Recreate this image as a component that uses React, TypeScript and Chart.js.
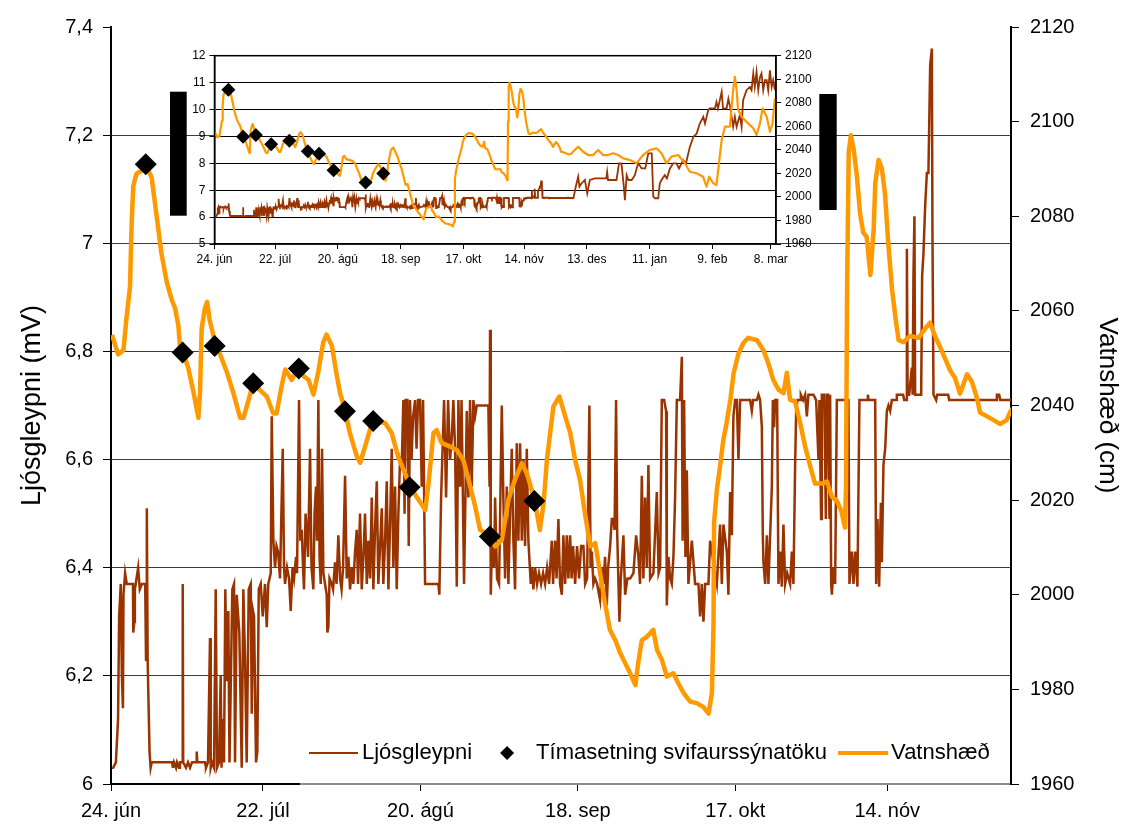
import React, { useEffect, useRef } from "react";
import { Chart, registerables } from "chart.js";

Chart.register(...registerables);

const FONT = '"Liberation Sans", Arial, Helvetica, sans-serif';
const BROWN = "#993300";
const ORANGE = "#FF9900";

// x values are days counted from 24 June
const mainTickDays = [0, 28, 57, 86, 115, 143];
const mainTickLabels = ["24. jún", "22. júl", "20. ágú", "18. sep", "17. okt", "14. nóv"];
const mainMaxDay = 165.8;

const insetTickDays = [0, 28, 57, 86, 115, 143, 172, 201, 230, 257];
const insetTickLabels = [
  "24. jún", "22. júl", "20. ágú", "18. sep", "17. okt",
  "14. nóv", "13. des", "11. jan", "9. feb", "8. mar",
];
const insetMaxDay = 259.4;

// sampling times (day) and water level at sampling (cm)
const sampleDays = [6.4, 13.2, 19.1, 26.2, 34.6, 43.1, 48.3, 55.0, 69.8, 78.0];
const sampleLevels = [2091, 2051.2, 2052.6, 2044.7, 2047.8, 2038.8, 2036.7, 2022.7, 2012.3, 2019.8];

// light absorbance (mV), summer/autumn record [day, mV]
const ljosSummer: [number, number][] = [
  [0.2, 6.03], [0.4, 6.03], [0.9, 6.04], [1.3, 6.12], [1.5, 6.31], [1.8, 6.37], [2.0, 6.2], [2.2, 6.14],
  [2.3, 6.35], [2.6, 6.39], [2.9, 6.37], [4.05, 6.37], [4.1, 6.28], [4.3, 6.3], [4.4, 6.36], [5.0, 6.4],
  [5.3, 6.36], [5.7, 6.37], [6.3, 6.37], [6.45, 6.23], [6.6, 6.51], [6.75, 6.23], [7.1, 6.06], [7.3, 6.03],
  [7.5, 6.04], [11.24, 6.04], [11.42, 6.03], [11.61, 6.04], [11.98, 6.03], [12.16, 6.04], [12.53, 6.03],
  [12.71, 6.04], [13.17, 6.04], [13.21, 6.37], [13.3, 6.04], [13.82, 6.03], [14.19, 6.04], [14.56, 6.03],
  [14.93, 6.04], [15.66, 6.04], [15.79, 6.06], [15.9, 6.04], [17.32, 6.04], [17.5, 6.03], [17.87, 6.04],
  [18.24, 6.27], [18.37, 6.03], [18.61, 6.04], [18.98, 6.03], [19.29, 6.36], [19.53, 6.03], [19.9, 6.04],
  [20.21, 6.2], [20.36, 6.03], [20.58, 6.12], [20.82, 6.04], [21.06, 6.36], [21.32, 6.19], [21.61, 6.32],
  [21.83, 6.04], [22.06, 6.18], [22.35, 6.36], [22.66, 6.37], [22.85, 6.04], [23.16, 6.35], [23.64, 6.28],
  [24.08, 6.03], [24.38, 6.36], [24.69, 6.23], [25.0, 6.04], [25.37, 6.36], [25.74, 6.37], [25.93, 6.13],
  [26.16, 6.32], [26.35, 6.31], [26.72, 6.04], [26.96, 6.06], [27.22, 6.36], [27.58, 6.37], [27.95, 6.31],
  [28.38, 6.37], [28.69, 6.29], [28.98, 6.37], [29.43, 6.39], [29.61, 6.68], [29.91, 6.45], [30.22, 6.4],
  [30.49, 6.44], [30.77, 6.43], [31.14, 6.38], [31.64, 6.62], [31.88, 6.4], [32.06, 6.37], [32.43, 6.4],
  [32.8, 6.38], [33.11, 6.32], [33.44, 6.4], [33.72, 6.38], [34.09, 6.42], [34.27, 6.39], [34.64, 6.71],
  [34.88, 6.45], [35.14, 6.47], [35.38, 6.4], [35.56, 6.36], [35.84, 6.5], [36.06, 6.47], [36.3, 6.42],
  [36.67, 6.62], [36.94, 6.4], [37.28, 6.36], [37.5, 6.5], [37.77, 6.55], [37.96, 6.45], [38.2, 6.71],
  [38.42, 6.42], [38.64, 6.37], [38.88, 6.62], [39.12, 6.39], [39.43, 6.37], [39.74, 6.35], [39.86, 6.28],
  [40.04, 6.29], [40.26, 6.38], [40.67, 6.37], [40.91, 6.36], [41.27, 6.41], [41.55, 6.37], [41.88, 6.46],
  [42.2, 6.38], [42.47, 6.36], [42.75, 6.4], [43.12, 6.57], [43.43, 6.38], [43.73, 6.42], [44.04, 6.36],
  [44.35, 6.4], [44.65, 6.37], [44.96, 6.43], [45.27, 6.47], [45.51, 6.37], [45.88, 6.5], [46.19, 6.36],
  [46.49, 6.42], [46.8, 6.5], [47.12, 6.37], [47.41, 6.45], [47.72, 6.38], [48.04, 6.53], [48.33, 6.36],
  [48.64, 6.47], [48.96, 6.56], [49.25, 6.37], [49.57, 6.44], [49.88, 6.51], [50.17, 6.37], [50.49, 6.45],
  [50.8, 6.56], [51.1, 6.36], [51.41, 6.48], [51.72, 6.62], [52.02, 6.4], [52.33, 6.55], [52.64, 6.36],
  [52.94, 6.5], [53.25, 6.6], [53.56, 6.59], [53.86, 6.71], [54.08, 6.5], [54.27, 6.71], [54.6, 6.71],
  [54.85, 6.44], [55.09, 6.71], [55.37, 6.6], [55.65, 6.68], [56.02, 6.71], [56.29, 6.62], [56.57, 6.71],
  [56.94, 6.71], [57.25, 6.55], [57.49, 6.71], [57.67, 6.55], [57.86, 6.37], [60.31, 6.37], [60.49, 6.35],
  [60.81, 6.53], [61.36, 6.71], [61.73, 6.53], [62.1, 6.71], [62.46, 6.6], [62.78, 6.64], [63.07, 6.71],
  [63.39, 6.62], [63.7, 6.365], [64.0, 6.71], [64.31, 6.55], [64.58, 6.71], [65.04, 6.37], [65.54, 6.69],
  [65.84, 6.53], [66.15, 6.71], [66.46, 6.55], [66.76, 6.71], [67.07, 6.68], [67.38, 6.7], [69.52, 6.7],
  [69.74, 6.55], [69.83, 6.84], [69.96, 6.35], [70.2, 6.45], [70.57, 6.4], [70.76, 6.53], [71.12, 6.38],
  [71.49, 6.37], [71.99, 6.7], [72.28, 6.53], [72.6, 6.38], [72.91, 6.55], [73.21, 6.37], [73.52, 6.5],
  [73.83, 6.62], [74.13, 6.45], [74.44, 6.36], [74.75, 6.63], [75.05, 6.45], [75.36, 6.63], [75.68, 6.45],
  [75.97, 6.6], [76.28, 6.44], [76.6, 6.62], [76.89, 6.45], [77.33, 6.37], [77.57, 6.4], [77.81, 6.36],
  [78.13, 6.4], [78.49, 6.37], [78.86, 6.39], [79.23, 6.37], [79.6, 6.39], [79.97, 6.37], [80.34, 6.4],
  [80.71, 6.37], [81.2, 6.45], [81.44, 6.37], [81.81, 6.45], [82.09, 6.38], [82.42, 6.49], [82.73, 6.37],
  [83.05, 6.35], [83.34, 6.46], [83.66, 6.37], [83.97, 6.46], [84.26, 6.38], [84.58, 6.46], [84.85, 6.38],
  [85.13, 6.44], [85.5, 6.37], [85.86, 6.44], [86.23, 6.38], [86.6, 6.44], [87.03, 6.44], [87.34, 6.37],
  [87.71, 6.38], [88.13, 6.7], [88.35, 6.4], [88.57, 6.43], [88.87, 6.37], [89.18, 6.38], [89.55, 6.37],
  [90.1, 6.34], [90.38, 6.4], [90.71, 6.37], [91.02, 6.42], [91.34, 6.33], [91.58, 6.4], [91.95, 6.44],
  [92.26, 6.49], [92.55, 6.49], [92.77, 6.47], [93.05, 6.71], [93.24, 6.47], [93.66, 6.3], [93.92, 6.38],
  [94.4, 6.46], [94.71, 6.35], [95.13, 6.38], [95.63, 6.38], [96.24, 6.39], [96.74, 6.46], [97.16, 6.42],
  [97.47, 6.37], [97.79, 6.57], [98.08, 6.38], [98.39, 6.53], [98.71, 6.4], [99.0, 6.59], [99.32, 6.38],
  [99.92, 6.39], [100.55, 6.54], [100.88, 6.39], [101.16, 6.4], [101.47, 6.71], [101.9, 6.71], [102.26, 6.69],
  [102.39, 6.33], [102.69, 6.42], [103.0, 6.38], [103.31, 6.37], [103.61, 6.42], [103.92, 6.53], [104.24, 6.71],
  [104.84, 6.71], [105.16, 6.79], [105.3, 6.45], [105.58, 6.71], [105.82, 6.42], [106.08, 6.58], [106.37, 6.37],
  [107.0, 6.45], [107.61, 6.37], [108.22, 6.37], [108.53, 6.31], [108.84, 6.37], [109.14, 6.3], [109.45, 6.37],
  [110.06, 6.37], [110.37, 6.45], [110.98, 6.41], [111.61, 6.37], [112.21, 6.48], [112.53, 6.37], [112.82, 6.48],
  [113.45, 6.43], [113.74, 6.35], [114.06, 6.54], [114.37, 6.46], [114.66, 6.68], [114.98, 6.71], [115.29, 6.71],
  [115.59, 6.6], [115.9, 6.71], [117.74, 6.71], [118.05, 6.69], [118.29, 6.71], [118.98, 6.71], [119.27, 6.72],
  [119.58, 6.71], [119.9, 6.66], [120.08, 6.46], [120.19, 6.41], [120.51, 6.37], [120.82, 6.46], [121.11, 6.37],
  [121.43, 6.46], [121.74, 6.55], [121.93, 6.71], [122.16, 6.66], [122.35, 6.71], [122.72, 6.71], [122.96, 6.37],
  [123.27, 6.43], [123.58, 6.365], [123.88, 6.48], [124.19, 6.37], [124.56, 6.39], [125.11, 6.37], [125.43, 6.43],
  [125.72, 6.37], [126.03, 6.59], [126.22, 6.69], [126.46, 6.71], [126.96, 6.71], [127.08, 6.72], [127.51, 6.71],
  [127.88, 6.72], [128.19, 6.68], [128.48, 6.72], [129.41, 6.72], [129.9, 6.71], [130.33, 6.6], [130.51, 6.71],
  [130.82, 6.49], [130.95, 6.72], [131.38, 6.72], [131.56, 6.6], [131.69, 6.49], [131.88, 6.72], [132.12, 6.72],
  [132.36, 6.49], [132.48, 6.72], [132.67, 6.37], [132.8, 6.35], [133.09, 6.4], [133.4, 6.37], [133.72, 6.71],
  [135.85, 6.71], [136.04, 6.37], [136.48, 6.43], [136.78, 6.37], [137.09, 6.43], [137.51, 6.365], [137.88, 6.71],
  [139.3, 6.71], [139.43, 6.72], [139.58, 6.71], [140.78, 6.71], [140.96, 6.37], [141.2, 6.49], [141.51, 6.365],
  [141.83, 6.52], [142.01, 6.41], [142.3, 6.59], [142.62, 6.62], [142.93, 6.69], [143.22, 6.7], [143.54, 6.69],
  [143.85, 6.71], [144.64, 6.71], [144.77, 6.72], [145.93, 6.72], [146.12, 6.71], [146.49, 6.71], [146.62, 6.99],
  [146.76, 6.72], [147.04, 6.72], [147.53, 6.77], [147.68, 6.72], [147.83, 6.94], [148.01, 7.05], [148.14, 6.72],
  [149.25, 6.72], [149.43, 6.94], [149.67, 6.98], [149.99, 7.07], [150.3, 7.13], [150.59, 7.13], [150.91, 7.33],
  [151.22, 7.36], [151.33, 7.02], [151.52, 6.72], [152.01, 6.71], [152.2, 6.72], [154.23, 6.72], [154.41, 6.71],
  [163.07, 6.71], [163.2, 6.72], [163.62, 6.72], [163.81, 6.71], [165.83, 6.71],
];

// light absorbance (mV), winter record [day, mV]
const ljosWinter: [number, number][] = [
  [166.9, 7.13], [168.0, 7.5], [168.6, 7.13], [169.5, 7.25], [171.1, 7.38], [172.2, 6.88], [173.4, 7.38],
  [175.7, 7.44], [178.8, 7.44], [181.0, 7.44], [181.4, 7.68], [181.8, 7.38], [185.7, 7.38], [186.9, 8.0],
  [188.0, 8.0], [189.1, 7.13], [189.6, 6.63], [190.4, 7.56], [191.2, 7.38], [192.7, 7.38], [194.2, 7.56],
  [195.0, 7.81], [195.8, 8.0], [197.3, 7.81], [199.0, 7.81], [200.4, 8.37], [202.0, 8.37], [202.7, 6.76],
  [203.5, 6.7], [205.0, 6.7], [205.7, 7.25], [206.5, 7.38], [208.0, 7.56], [209.0, 7.44], [210.4, 7.81],
  [211.9, 8.0], [213.4, 8.0], [214.6, 7.81], [216.5, 8.12], [217.8, 8.0], [219.6, 8.61], [221.2, 8.98],
  [222.7, 9.1], [224.2, 9.48], [225.8, 9.73], [226.6, 9.48], [228.1, 9.98], [228.8, 10.04], [231.2, 10.04],
  [231.9, 10.28], [232.6, 10.04], [234.3, 10.66], [234.9, 10.04], [236.6, 10.04], [237.4, 10.4], [238.2, 10.1],
  [238.9, 9.73], [239.6, 9.36], [240.4, 9.73], [241.2, 9.36], [242.7, 9.79], [243.5, 9.36], [244.2, 10.35],
  [245.8, 10.72], [247.3, 10.84], [248.1, 10.72], [248.9, 11.34], [249.6, 10.84], [250.4, 11.4], [251.2, 10.72],
  [252.0, 11.2], [252.7, 11.34], [253.5, 10.72], [254.3, 11.09], [255.1, 11.09], [255.8, 10.72], [256.6, 11.46],
  [257.4, 10.84], [258.1, 11.09], [258.9, 10.72],
];

// water level (cm), summer/autumn record [day, cm]
const vatnSummer: [number, number][] = [
  [0.2, 2054.9], [1.3, 2050.8], [2.3, 2051.7], [2.8, 2057.9], [3.5, 2065.1], [3.8, 2078.4], [4.1, 2086.4],
  [4.7, 2089.0], [5.3, 2089.4], [6.6, 2090.4], [7.5, 2088.1], [8.4, 2080.1], [9.3, 2072.1], [10.3, 2065.9],
  [11.2, 2062.3], [11.8, 2060.6], [12.4, 2057.0], [12.7, 2052.6], [13.3, 2051.2], [14.2, 2048.1], [15.2, 2042.8],
  [16.1, 2037.4], [16.4, 2042.8], [16.7, 2056.2], [17.3, 2060.6], [17.7, 2061.9], [18.2, 2057.9], [19.3, 2052.8],
  [20.1, 2050.8], [21.3, 2047.2], [22.5, 2042.8], [23.8, 2037.4], [24.4, 2037.4], [25.3, 2041.0], [26.2, 2044.8],
  [27.5, 2043.2], [28.7, 2041.9], [29.9, 2038.3], [30.5, 2038.3], [31.5, 2044.5], [32.1, 2047.6], [33.3, 2045.4],
  [34.5, 2048.1], [35.4, 2046.3], [36.4, 2045.4], [37.3, 2042.3], [38.2, 2047.2], [39.1, 2053.4], [39.7, 2055.0],
  [40.7, 2052.6], [41.6, 2046.3], [42.2, 2042.6], [43.1, 2039.1], [44.0, 2034.2], [45.3, 2029.2], [45.9, 2027.9],
  [46.8, 2031.3], [48.2, 2036.8], [50.5, 2036.3], [51.7, 2034.2], [52.9, 2029.2], [55.1, 2023.0], [56.3, 2020.7],
  [57.9, 2017.9], [58.5, 2023.6], [59.4, 2034.2], [60.0, 2034.8], [60.9, 2032.1], [62.5, 2031.3], [63.7, 2030.6],
  [64.9, 2028.5], [66.2, 2022.8], [67.1, 2018.6], [68.0, 2013.7], [69.8, 2012.6], [70.8, 2010.2], [72.0, 2011.6],
  [73.2, 2020.0], [74.4, 2024.3], [75.7, 2027.8], [76.6, 2025.7], [78.1, 2019.7], [79.0, 2013.7], [79.7, 2019.3],
  [80.3, 2028.5], [81.5, 2039.8], [82.6, 2041.9], [83.7, 2037.6], [84.6, 2034.2], [85.5, 2028.5], [86.4, 2024.3],
  [87.3, 2017.3], [88.3, 2010.2], [89.2, 2010.9], [90.1, 2004.6], [91.0, 1998.3], [91.9, 1992.6], [92.9, 1990.4],
  [93.8, 1987.7], [94.7, 1985.6], [95.6, 1983.5], [96.6, 1980.9], [97.2, 1986.2], [97.8, 1990.4], [98.7, 1991.1],
  [99.9, 1992.6], [100.6, 1988.3], [101.5, 1986.2], [102.4, 1982.7], [103.6, 1983.4], [104.5, 1981.3],
  [105.5, 1979.2], [106.7, 1977.4], [107.9, 1977.1], [109.1, 1976.3], [110.1, 1974.9], [110.7, 1979.2],
  [111.0, 1994.0], [111.1, 2015.2], [111.6, 2022.1], [112.2, 2027.1], [112.8, 2032.7], [113.4, 2036.2],
  [114.1, 2041.2], [114.7, 2046.8], [115.6, 2051.0], [116.5, 2053.2], [117.4, 2054.3], [119.0, 2053.8],
  [120.2, 2051.7], [121.1, 2048.9], [122.0, 2045.4], [123.0, 2043.3], [123.9, 2042.6], [124.5, 2046.9],
  [125.1, 2041.2], [126.0, 2040.9], [127.0, 2036.1], [127.9, 2031.2], [128.8, 2027.2], [129.7, 2023.5],
  [131.0, 2023.5], [131.9, 2023.9], [132.8, 2020.7], [133.7, 2019.9], [134.6, 2017.5], [135.2, 2014.2],
  [135.4, 2022.4], [135.6, 2064.4], [135.9, 2093.5], [136.3, 2097.1], [136.8, 2094.3], [137.4, 2088.6],
  [138.0, 2080.5], [138.6, 2076.5], [139.2, 2075.7], [139.9, 2067.6], [140.5, 2077.3], [140.8, 2087.0],
  [141.4, 2091.9], [142.0, 2090.2], [142.6, 2084.6], [143.2, 2074.1], [143.9, 2064.4], [144.5, 2058.7],
  [145.1, 2053.8], [146.0, 2053.4], [147.2, 2054.7], [148.8, 2054.3], [150.0, 2056.3], [150.9, 2057.5],
  [151.8, 2054.7], [152.8, 2052.2], [153.7, 2049.8], [154.6, 2047.4], [155.5, 2045.8], [156.4, 2042.5],
  [157.7, 2046.6], [158.6, 2045.0], [159.5, 2041.7], [160.1, 2038.5], [161.4, 2037.7], [162.6, 2036.9],
  [163.8, 2036.1], [165.0, 2036.9], [165.6, 2038.5],
];

// water level (cm), winter record [day, cm]
const vatnWinter: [number, number][] = [
  [168.0, 2042.7], [170.3, 2038.4], [172.6, 2035.6], [174.9, 2035.6], [177.2, 2039.9], [179.5, 2035.6],
  [181.8, 2035.6], [184.1, 2037.1], [186.5, 2035.6], [188.8, 2032.8], [191.9, 2031.4], [195.0, 2028.6],
  [198.0, 2035.6], [201.1, 2039.9], [204.2, 2041.3], [206.5, 2037.1], [208.8, 2028.6], [211.1, 2034.2],
  [214.2, 2035.6], [217.3, 2028.6], [219.6, 2021.4], [222.7, 2020.1], [225.7, 2017.2], [227.3, 2008.7],
  [228.5, 2017.2], [230.4, 2011.6], [231.9, 2010.1], [232.7, 2022.9], [234.3, 2048.4], [235.8, 2059.7],
  [238.1, 2059.7], [239.6, 2090.8], [240.4, 2102.1], [241.2, 2090.8], [241.9, 2073.8], [243.5, 2068.2],
  [246.5, 2062.5], [248.9, 2058.3], [250.4, 2052.6], [252.0, 2062.5], [253.2, 2075.3], [255.1, 2068.2],
  [256.6, 2055.4], [257.8, 2062.5], [258.9, 2083.8],
];

const toXY = (pairs: [number, number][]) => pairs.map(([x, y]) => ({ x, y }));
const samplePoints = sampleDays.map((d, i) => ({ x: d, y: sampleLevels[i] }));
const ljosAll = toXY([...ljosSummer, ...ljosWinter]);
const vatnAll = toXY([...vatnSummer, ...vatnWinter]);

const commaNumber = (v: number) => (Math.round(v * 10) / 10).toString().replace(".", ",");
const plainNumber = (v: number) => String(Math.round(v));
const near = (a: number, b: number) => Math.abs(a - b) < 1e-6;

function buildDatasets(diamondRadius: number, levelWidth: number, ljosWidth: number) {
  return [
    {
      type: "line" as const,
      label: "Tímasetning svifaurssýnatöku",
      data: samplePoints,
      yAxisID: "y1",
      showLine: false,
      pointStyle: "rectRot" as const,
      pointRadius: diamondRadius,
      pointBackgroundColor: "#000",
      pointBorderColor: "#000",
      pointBorderWidth: 0,
      borderColor: "#000",
      backgroundColor: "#000",
    },
    {
      type: "line" as const,
      label: "Vatnshæð",
      data: vatnAll,
      yAxisID: "y1",
      borderColor: ORANGE,
      borderWidth: levelWidth,
      pointRadius: 0,
      tension: 0,
      borderJoinStyle: "round" as const,
    },
    {
      type: "line" as const,
      label: "Ljósgleypni",
      data: ljosAll,
      yAxisID: "y",
      borderColor: BROWN,
      borderWidth: ljosWidth,
      pointRadius: 0,
      tension: 0,
    },
  ];
}

// legend row drawn inside the plot, along its lower edge
const legendPlugin = {
  id: "rowLegend",
  afterDatasetsDraw(chart: any) {
    const { ctx, chartArea } = chart;
    const [samples, level, ljos] = chart.data.datasets;
    const y = chartArea.bottom - 31;
    ctx.save();
    ctx.font = `22px ${FONT}`;
    ctx.textBaseline = "middle";
    ctx.fillStyle = "#000";
    let x = chartArea.left + 198;

    ctx.strokeStyle = ljos.borderColor;
    ctx.lineWidth = 2;
    ctx.beginPath();
    ctx.moveTo(x, y);
    ctx.lineTo(x + 49, y);
    ctx.stroke();
    x += 53;
    ctx.fillText(ljos.label, x, y);
    x += ctx.measureText(ljos.label).width + 35;

    const r = 7;
    ctx.fillStyle = samples.pointBackgroundColor;
    ctx.beginPath();
    ctx.moveTo(x - r, y);
    ctx.lineTo(x, y - r);
    ctx.lineTo(x + r, y);
    ctx.lineTo(x, y + r);
    ctx.closePath();
    ctx.fill();
    x += 29;
    ctx.fillStyle = "#000";
    ctx.fillText(samples.label, x, y);
    x += ctx.measureText(samples.label).width + 11;

    ctx.strokeStyle = level.borderColor;
    ctx.lineWidth = 4;
    ctx.beginPath();
    ctx.moveTo(x, y);
    ctx.lineTo(x + 50, y);
    ctx.stroke();
    x += 53;
    ctx.fillText(level.label, x, y);
    ctx.restore();
  },
  afterDraw(chart: any) {
    // darker first stretch of the time axis line
    const { ctx, chartArea, scales } = chart;
    ctx.save();
    ctx.strokeStyle = "#000";
    ctx.lineWidth = 2;
    ctx.beginPath();
    ctx.moveTo(chartArea.left, chartArea.bottom);
    ctx.lineTo(scales.x.getPixelForValue(34.8), chartArea.bottom);
    ctx.stroke();
    ctx.restore();
  },
};

// white plot background, frame and the two bars beside the small chart
const insetFramePlugin = {
  id: "insetFrame",
  beforeDraw(chart: any) {
    const { ctx, chartArea: a } = chart;
    ctx.save();
    ctx.fillStyle = "#fff";
    ctx.fillRect(a.left, a.top, a.right - a.left, a.bottom - a.top);
    ctx.restore();
  },
  afterDraw(chart: any) {
    const { ctx, chartArea: a } = chart;
    ctx.save();
    ctx.strokeStyle = "#000";
    ctx.lineWidth = 1.5;
    ctx.strokeRect(a.left, a.top, a.right - a.left, a.bottom - a.top);
    ctx.fillStyle = "#000";
    ctx.fillRect(a.left - 44.5, a.top + 36, 16.7, 124);
    ctx.fillRect(a.right + 43.3, a.top + 38.3, 17.4, 116);
    ctx.restore();
  },
};

function MainChart() {
  const ref = useRef<HTMLCanvasElement | null>(null);
  useEffect(() => {
    const canvas = ref.current;
    if (!canvas) return;
    const tickFont = { family: FONT, size: 20 };
    const chart = new Chart(canvas, {
      type: "line",
      data: { datasets: buildDatasets(11, 4.5, 2.5) as any },
      options: {
        animation: false,
        responsive: false,
        devicePixelRatio: 1,
        layout: { padding: { top: 27, left: 0, right: 0, bottom: 0 } },
        plugins: { legend: { display: false }, tooltip: { enabled: false } },
        scales: {
          x: {
            type: "linear",
            min: 0,
            max: mainMaxDay,
            afterBuildTicks: (s: any) => {
              s.ticks = mainTickDays.map((value) => ({ value }));
            },
            afterFit: (s: any) => {
              s.height = 45;
            },
            ticks: {
              autoSkip: false,
              maxRotation: 0,
              minRotation: 0,
              padding: 8,
              color: "#000",
              font: tickFont,
              callback: (v: any) => mainTickLabels[mainTickDays.indexOf(Number(v))] ?? "",
            },
            grid: { drawOnChartArea: false, tickLength: 7, tickColor: "#000", tickWidth: 1 },
            border: { color: "#8c8c8c", width: 2 },
          },
          y: {
            type: "linear",
            position: "left",
            min: 6,
            max: 7.4,
            afterFit: (s: any) => {
              s.width = 111;
            },
            ticks: {
              stepSize: 0.2,
              padding: 10,
              color: "#000",
              font: tickFont,
              callback: (v: any) => commaNumber(Number(v)),
            },
            grid: {
              color: (c: any) =>
                c.tick && (near(c.tick.value, 7.4) || near(c.tick.value, 6)) ? "rgba(0,0,0,0)" : "#3c3c3c",
              lineWidth: 1,
              tickLength: 8,
              tickColor: "#000",
              tickWidth: 1,
            },
            border: { color: "#000", width: 2 },
            title: {
              display: true,
              text: "Ljósgleypni (mV)",
              color: "#000",
              font: { family: FONT, size: 27 },
              padding: { top: 16, bottom: 0 },
            },
          },
          y1: {
            type: "linear",
            position: "right",
            min: 1960,
            max: 2120,
            afterFit: (s: any) => {
              s.width = 114;
            },
            ticks: {
              stepSize: 20,
              padding: 11,
              color: "#000",
              font: tickFont,
              callback: (v: any) => plainNumber(Number(v)),
            },
            grid: { drawOnChartArea: false, tickLength: 8, tickColor: "#000", tickWidth: 1 },
            border: { color: "#000", width: 2 },
            title: {
              display: true,
              text: "Vatnshæð (cm)",
              color: "#000",
              font: { family: FONT, size: 26 },
              padding: { top: 2, bottom: 0 },
            },
          },
        },
      },
      plugins: [legendPlugin],
    });
    return () => chart.destroy();
  }, []);
  return (
    <canvas
      ref={ref}
      width={1125}
      height={829}
      style={{ position: "absolute", left: 0, top: 0, width: 1125, height: 829 }}
    />
  );
}

function InsetChart() {
  const ref = useRef<HTMLCanvasElement | null>(null);
  useEffect(() => {
    const canvas = ref.current;
    if (!canvas) return;
    const tickFont = { family: FONT, size: 12 };
    const chart = new Chart(canvas, {
      type: "line",
      data: { datasets: buildDatasets(7, 2.2, 1.8) as any },
      options: {
        animation: false,
        responsive: false,
        devicePixelRatio: 1,
        layout: { padding: { top: 19.7, left: 0, right: 0, bottom: 0 } },
        plugins: { legend: { display: false }, tooltip: { enabled: false } },
        scales: {
          x: {
            type: "linear",
            min: 0,
            max: insetMaxDay,
            afterBuildTicks: (s: any) => {
              s.ticks = insetTickDays.map((value) => ({ value }));
            },
            afterFit: (s: any) => {
              s.height = 32;
            },
            ticks: {
              autoSkip: false,
              maxRotation: 0,
              minRotation: 0,
              padding: 3,
              color: "#000",
              font: tickFont,
              callback: (v: any) => insetTickLabels[insetTickDays.indexOf(Number(v))] ?? "",
            },
            grid: { drawOnChartArea: false, tickLength: 5, tickColor: "#000" },
            border: { color: "#000", width: 1.5 },
          },
          y: {
            type: "linear",
            position: "left",
            min: 5,
            max: 12,
            afterFit: (s: any) => {
              s.width = 54.5;
            },
            ticks: { stepSize: 1, padding: 4, color: "#000", font: tickFont },
            grid: {
              color: (c: any) =>
                c.tick && (near(c.tick.value, 5) || near(c.tick.value, 12)) ? "rgba(0,0,0,0)" : "#000",
              lineWidth: 1,
              tickLength: 5,
              tickColor: "#000",
            },
            border: { color: "#000", width: 1.5 },
          },
          y1: {
            type: "linear",
            position: "right",
            min: 1960,
            max: 2120,
            afterFit: (s: any) => {
              s.width = 64;
            },
            ticks: {
              stepSize: 20,
              padding: 4,
              color: "#000",
              font: tickFont,
              callback: (v: any) => plainNumber(Number(v)),
            },
            grid: { drawOnChartArea: false, tickLength: 5, tickColor: "#000" },
            border: { color: "#000", width: 1.5 },
          },
        },
      },
      plugins: [insetFramePlugin],
    });
    return () => chart.destroy();
  }, []);
  return (
    <canvas
      ref={ref}
      width={680}
      height={240}
      style={{ position: "absolute", left: 160, top: 36, width: 680, height: 240 }}
    />
  );
}

export default function App() {
  useEffect(() => {
    document.body.style.margin = "0";
  }, []);
  return (
    <div style={{ position: "relative", width: 1125, height: 829, background: "#fff", overflow: "hidden" }}>
      <MainChart />
      <InsetChart />
    </div>
  );
}
